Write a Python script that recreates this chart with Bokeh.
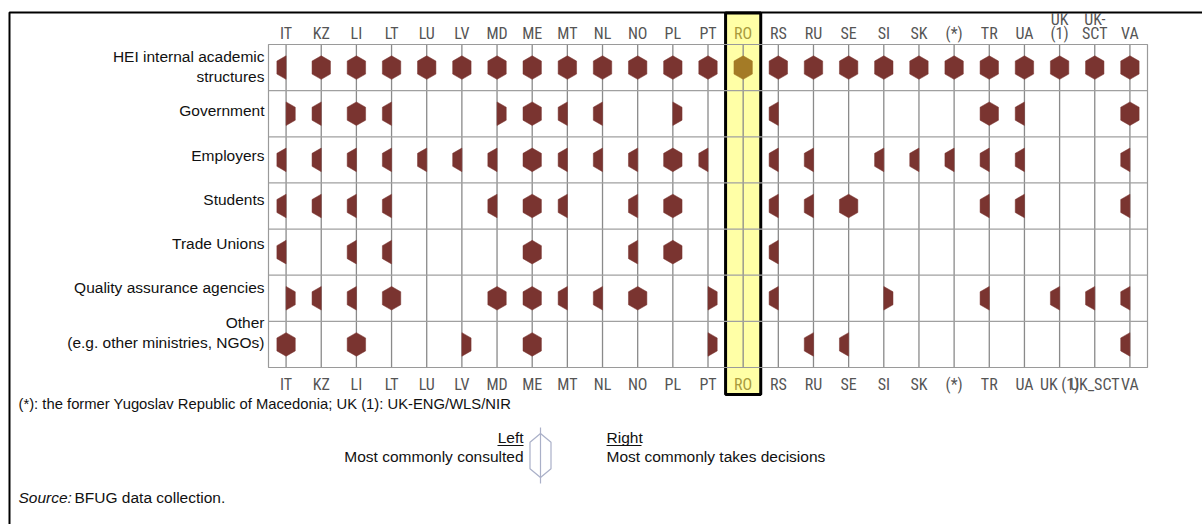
from bokeh.plotting import figure
from bokeh.models import Range1d, ColumnDataSource
from bokeh.embed import file_html
from bokeh.resources import INLINE
from bokeh.core.properties import value

# ---------------- data ----------------
countries = ["IT", "KZ", "LI", "LT", "LU", "LV", "MD", "ME", "MT", "NL", "NO", "PL", "PT",
             "RO", "RS", "RU", "SE", "SI", "SK", "(*)", "TR", "UA", "UK (1)", "UK-SCT", "VA"]
top_labels = ["IT", "KZ", "LI", "LT", "LU", "LV", "MD", "ME", "MT", "NL", "NO", "PL", "PT",
              "RO", "RS", "RU", "SE", "SI", "SK", "(*)", "TR", "UA", "UK\n(1)", "UK-\nSCT", "VA"]
bottom_labels = ["IT", "KZ", "LI", "LT", "LU", "LV", "MD", "ME", "MT", "NL", "NO", "PL", "PT",
                 "RO", "RS", "RU", "SE", "SI", "SK", "(*)", "TR", "UA", "UK (1)", "UK_SCT", "VA"]
stakeholders = ["HEI internal academic\nstructures", "Government", "Employers", "Students",
                "Trade Unions", "Quality assurance agencies", "Other\n(e.g. other ministries, NGOs)"]

# F = consulted and takes decisions, L = most commonly consulted, R = most commonly takes decisions
hei          = ["L", "F", "F", "F", "F", "F", "F", "F", "F", "F", "F", "F", "F", "F", "F", "F", "F", "F", "F", "F", "F", "F", "F", "F", "F"]
government   = ["R", "L", "F", "L", "", "", "R", "F", "L", "L", "", "R", "", "", "L", "", "", "", "", "", "F", "L", "", "", "F"]
employers    = ["L", "L", "L", "L", "L", "L", "L", "F", "L", "L", "L", "F", "L", "", "L", "L", "", "L", "L", "L", "L", "L", "", "", "L"]
students     = ["L", "L", "L", "L", "", "", "L", "F", "L", "", "L", "F", "", "", "L", "L", "F", "", "", "", "L", "L", "", "", "L"]
trade_unions = ["L", "", "L", "L", "", "", "", "F", "", "", "L", "F", "", "", "L", "", "", "", "", "", "", "", "", "", ""]
qa_agencies  = ["R", "L", "L", "F", "", "", "F", "F", "L", "L", "F", "", "R", "", "L", "", "", "R", "", "", "L", "", "L", "L", "L"]
other        = ["F", "", "F", "", "", "R", "", "F", "", "", "", "", "R", "", "", "L", "L", "", "", "", "", "", "", "", "L"]
rows = [hei, government, employers, students, trade_unions, qa_agencies, other]
highlight = "RO"

footnote = "(*): the former Yugoslav Republic of Macedonia; UK (1): UK-ENG/WLS/NIR"
legend_left = ["Left", "Most commonly consulted"]
legend_right = ["Right", "Most commonly takes decisions"]
source_label = "Source:"
source_text = "BFUG data collection."

# ---------------- style / geometry (page pixels) ----------------
HEX_COLOR = "#7a3430"
HL_HEX_COLOR = "#a47b26"
LABEL_COLOR = "#555555"
HL_LABEL_COLOR = "#a89a3c"
LABEL_FONT = "Roboto Condensed, Liberation Sans Narrow, Roboto, sans-serif"
TEXT_FONT = "Liberation Sans"
TXT = "#111111"
FIG_W, FIG_H = 1202, 524
GRID_L, GRID_T, GRID_W, GRID_H = 268, 44, 879, 323
ROW_LABEL_PITCH = 0.96      # row labels are set slightly tighter than the rows
ROW_LABEL_SHIFT = -0.023

n_cols = len(countries)
n_rows = len(stakeholders)
col_px = GRID_W / n_cols
row_px = GRID_H / n_rows


def dx(px):
    return -0.5 + (px - GRID_L) / col_px


def dy(py):
    return -0.5 + (py - GRID_T) / row_px


p = figure(width=FIG_W, height=FIG_H,
           x_range=Range1d(dx(0), dx(FIG_W)), y_range=Range1d(dy(FIG_H), dy(0)),
           x_axis_location=None, y_axis_location=None, min_border=0,
           output_backend="svg", toolbar_location=None, tools="",
           outline_line_color=None, background_fill_color="white", border_fill_color="white")
p.grid.visible = False

# outer frame (left and top edges)
p.line(x=[dx(FIG_W), dx(9), dx(9)], y=[dy(12), dy(12), dy(FIG_H)], line_color="black", line_width=2)

# highlighted column band
hl_idx = countries.index(highlight)
p.quad(left=[hl_idx - 0.5], right=[hl_idx + 0.5], top=[dy(12.5)], bottom=[dy(394)],
       fill_color="#ffffa6", line_color="black", line_width=3)

# grid
x_left, x_right = -0.5, n_cols - 0.5
y_top, y_bottom = -0.5, n_rows - 0.5
p.segment(x0=list(range(n_cols)), y0=[y_top] * n_cols, x1=list(range(n_cols)), y1=[y_bottom] * n_cols,
          line_color="#8a8a8a", line_width=1.3)
hl = [k + 0.5 for k in range(n_rows - 1)]
p.segment(x0=[x_left] * len(hl), y0=hl, x1=[x_right] * len(hl), y1=hl,
          line_color="#a0a0a0", line_width=1.2)
p.quad(left=[x_left], right=[x_right], top=[y_top], bottom=[y_bottom],
       fill_color=None, line_color="#9a9a9a", line_width=1.2)

# hexagons
W = 9.2 / col_px
H = 11.8 / row_px
S = 0.55
xs, ys, colors = [], [], []
for j, codes in enumerate(rows):
    for i, code in enumerate(codes):
        if not code:
            continue
        if code == "F":
            px, py = [0, W, W, 0, -W, -W], [-H, -S * H, S * H, H, S * H, -S * H]
        elif code == "L":
            px, py = [0, 0, -W, -W], [-H, H, S * H, -S * H]
        else:
            px, py = [0, W, W, 0], [-H, -S * H, S * H, H]
        xs.append([i + d for d in px])
        ys.append([j + d for d in py])
        colors.append(HL_HEX_COLOR if countries[i] == highlight else HEX_COLOR)
p.patches(xs="xs", ys="ys", source=ColumnDataSource(dict(xs=xs, ys=ys, color=colors)),
          fill_color="color", line_color="color", line_width=0.5)

# column labels (top: last line at the bottom, first line above it for two-line labels)
label_colors = [HL_LABEL_COLOR if c == highlight else LABEL_COLOR for c in countries]
top_parts = [t.split("\n") for t in top_labels]
line_last = [parts[-1] for parts in top_parts]
line_first = [parts[0] if len(parts) > 1 else "" for parts in top_parts]
LFS = "16px"
p.text(x=list(range(n_cols)), y=[dy(42)] * n_cols, text=line_last, text_color=label_colors,
       text_font=value(LABEL_FONT), text_font_size=LFS, text_align="center", text_baseline="bottom")
p.text(x=list(range(n_cols)), y=[dy(28.5)] * n_cols, text=line_first, text_color=label_colors,
       text_font=value(LABEL_FONT), text_font_size=LFS, text_align="center", text_baseline="bottom")
p.text(x=list(range(n_cols)), y=[dy(393)] * n_cols, text=bottom_labels, text_color=label_colors,
       text_font=value(LABEL_FONT), text_font_size=LFS, text_align="center", text_baseline="bottom")

# row labels
label_y = [ROW_LABEL_SHIFT + j * ROW_LABEL_PITCH for j in range(n_rows)]
p.text(x=[dx(264)] * n_rows, y=label_y, text=stakeholders, text_color=TXT,
       text_font=value(TEXT_FONT), text_font_size="15.5px", text_align="right",
       text_baseline="middle", text_line_height=1.15)


# notes and legend
def add_text(x, y, text, align="left", style="normal", fs="15.5px"):
    p.text(x=[dx(x)], y=[dy(y)], text=[text], text_font=value(TEXT_FONT), text_font_size=fs,
           text_font_style=style, text_align=align, text_baseline="middle", text_color=TXT)


add_text(18, 403, footnote, fs="14.8px")
add_text(523, 437, legend_left[0], align="right")
add_text(523, 456, legend_left[1], align="right")
add_text(606, 437, legend_right[0])
add_text(606, 456, legend_right[1])
add_text(18, 497, source_label, style="italic")
add_text(74, 497, source_text)

p.segment(x0=[dx(497), dx(606)], y0=[dy(445)] * 2, x1=[dx(523), dx(641)], y1=[dy(445)] * 2,
          line_color=TXT, line_width=1)

cx, cy, hw, hh = 540, 455, 10.5, 22
hex_x = [cx, cx + hw, cx + hw, cx, cx - hw, cx - hw, cx]
hex_y = [cy - hh, cy - 0.6 * hh, cy + 0.6 * hh, cy + hh, cy + 0.6 * hh, cy - 0.6 * hh, cy - hh]
p.line(x=[dx(v) for v in hex_x], y=[dy(v) for v in hex_y], line_color="#aab0c8", line_width=1.2)
p.segment(x0=[dx(cx)], y0=[dy(cy - hh - 6)], x1=[dx(cx)], y1=[dy(cy + hh + 6)],
          line_color="#aab0c8", line_width=1.2)

open("out.html", "w").write(file_html(p, INLINE))
